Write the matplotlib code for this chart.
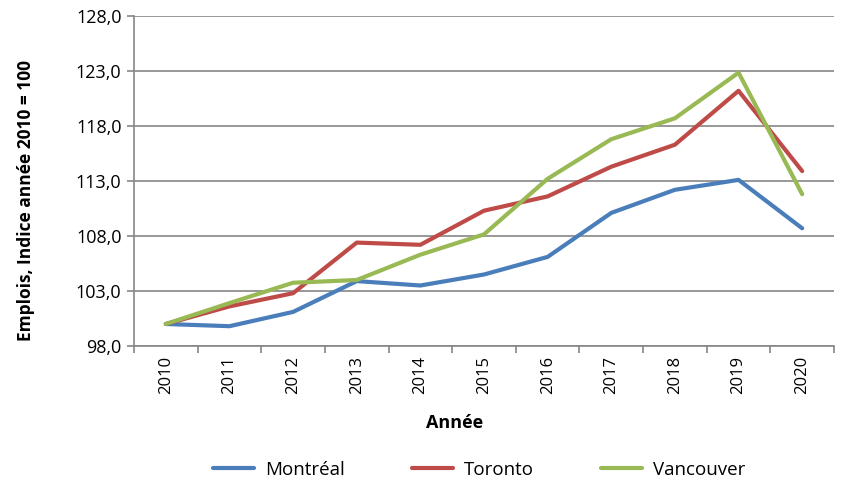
import matplotlib
matplotlib.use("Agg")
import matplotlib.pyplot as plt
from matplotlib.ticker import FuncFormatter, FixedLocator

plt.rcParams['font.family'] = ['Open Sans', 'DejaVu Sans']

years = ["2010", "2011", "2012", "2013", "2014", "2015", "2016", "2017", "2018", "2019", "2020"]
montreal = [100.0, 99.8, 101.1, 103.9, 103.5, 104.5, 106.1, 110.1, 112.2, 113.1, 108.7]
toronto = [100.0, 101.6, 102.8, 107.4, 107.2, 110.3, 111.6, 114.3, 116.3, 121.2, 113.9]
vancouver = [100.0, 101.9, 103.75, 104.0, 106.3, 108.15, 113.2, 116.8, 118.7, 122.85, 111.8]
series_names = ["Montréal", "Toronto", "Vancouver"]
colors = ["#4A7EBB", "#BE4B48", "#98B954"]
yticks = [98, 103, 108, 113, 118, 123, 128]

W, H = 842, 482
fig = plt.figure(figsize=(W / 100, H / 100), dpi=100)
ax = fig.add_axes([134 / W, 1 - 346 / H, 700 / W, 330 / H])

x = list(range(len(years)))
lines = []
for vals, name, c in zip([montreal, toronto, vancouver], series_names, colors):
    ln, = ax.plot(x, vals, color=c, lw=3, label=name, solid_capstyle='round', zorder=3)
    lines.append(ln)

ax.set_xlim(-0.5, len(years) - 0.5)
ax.set_ylim(98, 128)
ax.set_yticks(yticks)
ax.yaxis.set_major_formatter(FuncFormatter(lambda v, p: f"{v:.1f}".replace('.', ',')))
ax.set_xticks(x)
ax.set_xticklabels(years, rotation=90)
ax.xaxis.set_minor_locator(FixedLocator([i - 0.5 for i in range(len(years) + 1)]))
ax.tick_params(axis='x', which='major', length=0, pad=7, labelsize=12)
ax.tick_params(axis='x', which='minor', length=5, width=1.2, color='#868686')
ax.tick_params(axis='y', length=5, width=1.2, color='#868686', labelsize=13, pad=4)

ax.grid(axis='y', color='#868686', lw=1.2, zorder=1)
ax.set_axisbelow(True)
for s in ['top', 'right']:
    ax.spines[s].set_visible(False)
for s in ['left', 'bottom']:
    ax.spines[s].set_color('#868686')
    ax.spines[s].set_linewidth(1.2)

fig.text(455 / W, 1 - 423 / H, "Année", ha='center', va='center', fontsize=13, fontweight='bold')
fig.text(26 / W, 1 - 200 / H, "Emplois, Indice année 2010 = 100", ha='center', va='center',
         rotation=90, fontsize=12.5, fontweight='bold')

leg = fig.legend(handles=lines, loc='center', bbox_to_anchor=(479 / W, 1 - 470 / H), ncol=3,
                 frameon=False, fontsize=13.5, handlelength=2.2, columnspacing=3.6, handletextpad=0.55)

fig.savefig("out.png", dpi=100)
